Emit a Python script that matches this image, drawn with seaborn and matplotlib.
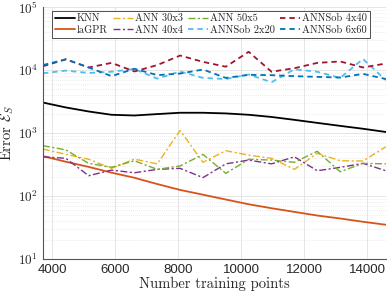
import matplotlib
matplotlib.use('Agg')
import matplotlib.pyplot as plt
import matplotlib.ticker as mticker
import numpy as np
import pandas as pd
import seaborn as sns

# training set sizes
n_train = [3700, 4427, 5153, 5880, 6607, 7333, 8060, 8787,
           9513, 10240, 10967, 11693, 12420, 13147, 13873, 14600]

# errors
knn = [3050, 2550, 2200, 1950, 1900, 2000, 2100, 2100,
       2050, 1950, 1800, 1620, 1450, 1300, 1170, 1040]
lagpr = [430, 350, 290, 235, 195, 155, 125, 105,
         88, 74, 64, 56, 49, 44, 39, 35]
ann_30x3 = [557, 460, 383, 275, 386, 324, 1100, 343,
            525, 446, 397, 265, 478, 363, 360, 605]
ann_40x4 = [419, 397, 210, 258, 234, 265, 275, 196,
            324, 372, 324, 419, 252, 285, 330, 252]
ann_50x5 = [630, 540, 330, 286, 363, 265, 300, 458,
            229, 383, 372, 343, 513, 243, 330, 324]
annsob_2x20 = [8900, 9800, 9000, 9400, 10400, 7300, 9500, 7500,
               7200, 8500, 6400, 10300, 9400, 7500, 15000, 6900]
annsob_4x40 = [11500, 14800, 11000, 13000, 9500, 12000, 17000, 13500,
               11300, 19500, 9400, 10700, 13000, 13700, 11000, 12700]
annsob_6x60 = [12000, 14800, 11000, 8000, 10500, 8300, 8800, 10200,
               7500, 8400, 8300, 8000, 7800, 7600, 8700, 7200]

series = {
    'KNN': knn,
    'laGPR': lagpr,
    'ANN 30x3': ann_30x3,
    'ANN 40x4': ann_40x4,
    'ANN 50x5': ann_50x5,
    'ANNSob 2x20': annsob_2x20,
    'ANNSob 4x40': annsob_4x40,
    'ANNSob 6x60': annsob_6x60,
}
colors = {
    'KNN': '#000000',
    'laGPR': '#D95319',
    'ANN 30x3': '#EDB120',
    'ANN 40x4': '#7E2F8E',
    'ANN 50x5': '#77AC30',
    'ANNSob 2x20': '#4DBEEE',
    'ANNSob 4x40': '#A2142F',
    'ANNSob 6x60': '#0072BD',
}
dashes = {
    'KNN': '',
    'laGPR': '',
    'ANN 30x3': (5, 1.8, 1.5, 1.8),
    'ANN 40x4': (5, 1.8, 1.5, 1.8),
    'ANN 50x5': (5, 1.8, 1.5, 1.8),
    'ANNSob 2x20': (3, 2.2),
    'ANNSob 4x40': (3, 2.2),
    'ANNSob 6x60': (3, 2.2),
}
widths = {
    'KNN': 1.3, 'laGPR': 1.3,
    'ANN 30x3': 1.0, 'ANN 40x4': 1.0, 'ANN 50x5': 1.0,
    'ANNSob 2x20': 1.3, 'ANNSob 4x40': 1.3, 'ANNSob 6x60': 1.3,
}

df = pd.concat(
    [pd.DataFrame({'n': n_train, 'err': v, 'method': k}) for k, v in series.items()],
    ignore_index=True)

sns.set_style('white')
plt.rcParams['mathtext.fontset'] = 'cm'
plt.rcParams['axes.unicode_minus'] = False

fig = plt.figure(figsize=(3.87, 2.95), dpi=100)
ax = fig.add_axes([0.111, 0.122, 0.886, 0.854])

for name in series:
    sub = df[df['method'] == name]
    sns.lineplot(ax=ax, data=sub, x='n', y='err', color=colors[name],
                 lw=widths[name], label=name, legend=False)
    if dashes[name]:
        ax.lines[-1].set_dashes(dashes[name])

ax.set_yscale('log')
ax.set_ylim(10, 1e5)
ax.set_xlim(3700, 14600)
ax.set_xticks([4000, 6000, 8000, 10000, 12000, 14000])
ax.yaxis.set_major_locator(mticker.LogLocator(base=10, numticks=10))
ax.yaxis.set_minor_locator(mticker.LogLocator(base=10, subs=np.arange(2, 10), numticks=10))
ax.yaxis.set_major_formatter(mticker.FuncFormatter(
    lambda v, p: r'$\mathsf{10^{%d}}$' % int(round(np.log10(v)))))
ax.yaxis.set_minor_formatter(mticker.NullFormatter())

ax.grid(True, which='major', color='#e0e0e0', lw=0.6)
ax.grid(True, which='minor', axis='y', color='#dadada', lw=0.5, ls=(0, (1, 2)))
ax.set_axisbelow(True)

for side in ['top', 'right']:
    ax.spines[side].set_visible(False)
for side in ['left', 'bottom']:
    ax.spines[side].set_color('#555555')
    ax.spines[side].set_linewidth(0.8)
ax.tick_params(which='both', direction='in', colors='#555555', labelcolor='#262626',
               labelsize=9.5, top=False, right=False)
ax.tick_params(which='major', length=3.5, width=0.6)
ax.tick_params(which='minor', length=2, width=0.5)
for lbl in ax.get_xticklabels():
    lbl.set_fontfamily('Liberation Sans')

ax.set_xlabel('Number training points', fontfamily='cmr10', fontsize=10.5, labelpad=1)
ax.set_ylabel(r'Error $\mathcal{E}_S$', fontfamily='cmr10', fontsize=10.5, labelpad=1)

handles, labels = ax.get_legend_handles_labels()
leg = ax.legend(handles, labels, loc='upper center', bbox_to_anchor=(0.49, 0.985),
                ncol=4, prop={'family': 'cmr10', 'size': 7.5}, frameon=True,
                fancybox=False, edgecolor='#333333', framealpha=1,
                handlelength=1.9, handletextpad=0.25, columnspacing=0.45,
                labelspacing=0.2, borderpad=0.3, borderaxespad=0)
leg.get_frame().set_linewidth(0.6)

fig.savefig('out.png', dpi=100)
